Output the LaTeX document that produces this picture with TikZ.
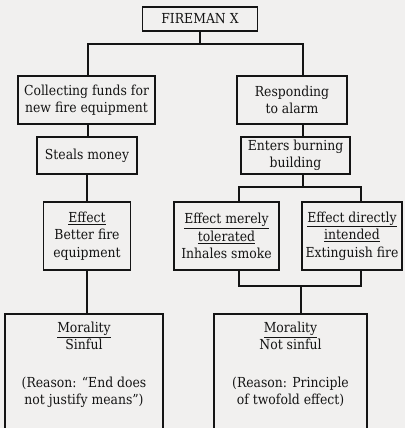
\documentclass[tikz,border=0pt]{standalone}
\usepackage{fontspec}
\setmainfont{DejaVu Serif Condensed}
\definecolor{paper}{RGB}{241,240,239}
\definecolor{ink}{RGB}{20,20,20}
\begin{document}
\begin{tikzpicture}[x=1pt, y=-1pt, every node/.style={font=\fontsize{13.8}{17.5}\selectfont, text=ink}]
  \tikzstyle{box}=[draw=ink,line width=1.8pt,align=center,inner sep=3pt]
  \tikzstyle{link}=[draw=ink,line width=1.8pt]
  \fill[paper] (0,0) rectangle (405,428);
  \useasboundingbox (0,0) rectangle (405,428);
  \node[box,minimum width=115pt,minimum height=24pt] (fx) at (200,19) {FIREMAN X};
  \node[box,minimum width=137pt,minimum height=48pt] (col) at (86.5,100) {Collecting funds for\\new fire equipment};
  \node[box,minimum width=110pt,minimum height=48pt] (resp) at (292,100) {Responding\\to alarm};
  \node[box,minimum width=100pt,minimum height=37pt] (steal) at (87,155.5) {Steals money};
  \node[box,minimum width=109pt,minimum height=37pt] (enter) at (295.5,155.5) {Enters burning\\building};
  \node[box,minimum width=87pt,minimum height=68pt] (effl) at (87,236) {\underline{Effect}\\Better fire\\equipment};
  \node[box,minimum width=105pt,minimum height=68pt] (effm) at (226.5,236) {\underline{Effect merely}\\\underline{tolerated}\\Inhales smoke};
  \node[box,minimum width=100pt,minimum height=68pt] (effr) at (352,236) {\underline{Effect directly}\\\underline{intended}\\Extinguish fire};
  \node[box,anchor=north,minimum width=158pt,inner ysep=8pt,text depth=45pt] (morl) at (84,313) {\underline{Morality}\\Sinful\\[20pt](Reason: ``End does\\not justify means'')};
  \node[box,anchor=north,minimum width=153pt,inner ysep=8pt,text depth=45pt] (morr) at (290.5,313) {\underline{Morality}\\Not sinful\\[20pt](Reason: Principle\\of twofold effect)};
  \coordinate (jl) at (88,44); \coordinate (jr) at (303,44);
  \coordinate (ja) at (303,187); \coordinate (jb1) at (239,187); \coordinate (jb2) at (361,187);
  \coordinate (jc1) at (239,286); \coordinate (jc2) at (361,286); \coordinate (jd) at (301,286);
  \draw[link] (fx.south) -- (fx.south |- jl);
  \draw[link] (jl |- col.north) -- (jl) -- (jr) -- (jr |- resp.north);
  \draw[link] (jl |- col.south) -- (jl |- steal.north);
  \draw[link] (jr |- resp.south) -- (jr |- enter.north);
  \draw[link] (steal.south) -- (steal.south |- effl.north);
  \draw[link] (ja |- enter.south) -- (ja);
  \draw[link] (jb1 |- effm.north) -- (jb1) -- (jb2) -- (jb2 |- effr.north);
  \draw[link] (jc1 |- effm.south) -- (jc1) -- (jc2) -- (jc2 |- effr.south);
  \draw[link] (jd) -- (jd |- morr.north);
  \draw[link] (effl.south) -- (effl.south |- morl.north);
\end{tikzpicture}
\end{document}
